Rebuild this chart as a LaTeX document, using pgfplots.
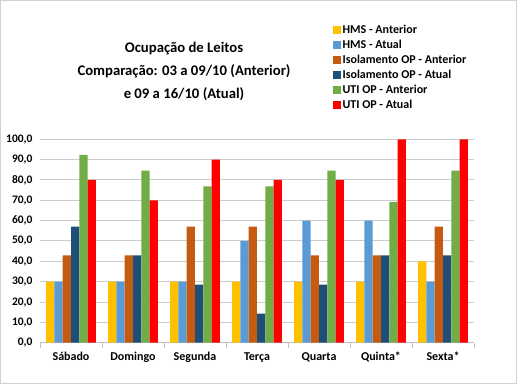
\documentclass[border=0pt]{standalone}
\usepackage{pgfplots}
\pgfplotsset{compat=1.18}
\usepackage{fontspec}
\setmainfont{Carlito}
\definecolor{cYel}{HTML}{FFC000}
\definecolor{cBlu}{HTML}{5B9BD5}
\definecolor{cOra}{HTML}{C55A11}
\definecolor{cDbl}{HTML}{1F4E79}
\definecolor{cGrn}{HTML}{70AD47}
\definecolor{cRed}{HTML}{FF0000}
\definecolor{cGrid}{HTML}{CCCCCC}
\definecolor{cAxis}{HTML}{BFBFBF}
\pgfplotsset{
  /pgfplots/ybar legend/.style={
    /pgfplots/legend image code/.code={\fill[##1,draw=none] (0bp,-4bp) rectangle (8bp,4bp);}
  }
}
\begin{document}
\begin{tikzpicture}
\useasboundingbox (0,0) rectangle (517bp,384bp);
\draw[cAxis!70] (0.5bp,0.5bp) rectangle (516.5bp,383.5bp);
\node[align=center,font=\bfseries\fontsize{14.7bp}{23bp}\selectfont] at (184bp,312.5bp)
  {Ocupação de Leitos\\Comparação: 03 a 09/10 (Anterior)\\e 09 a 16/10 (Atual)};
\begin{axis}[
  at={(40bp,41.3bp)}, anchor=south west,
  scale only axis, width=434bp, height=203.4bp,
  ybar=0pt, bar width=0.1333,
  xmin=-0.5, xmax=6.5, ymin=0, ymax=100,
  xtick={0,...,6},
  xticklabels={Sábado,Domingo,Segunda,Terça,Quarta,Quinta*,Sexta*},
  minor xtick={-0.5,0.5,...,6.5},
  ytick={0,10,...,100},
  major x tick style={draw=none},
  minor x tick style={draw=cAxis, line width=0.8bp},
  major tick length=0pt,
  minor tick length=5bp,
  tick align=outside,
  axis x line*=bottom,
  axis y line*=left,
  x axis line style={cAxis, line width=0.8bp, -},
  y axis line style={draw=none, -},
  clip=false,
  /pgf/number format/assume math mode=true,
  yticklabel={\pgfmathprintnumber[fixed,fixed zerofill,precision=1,use comma]{\tick}},
  yticklabel style={font=\bfseries\fontsize{11.5bp}{13bp}\selectfont, xshift=-4bp},
  xticklabel style={font=\bfseries\fontsize{12bp}{14bp}\selectfont, yshift=-6bp},
  legend style={at={(0.668,1.58)}, anchor=north west, draw=none, fill=none,
    font=\bfseries\fontsize{12bp}{14bp}\selectfont, row sep=2bp,
    nodes={inner sep=1.5bp}},
  legend cell align=left,
]
\foreach \g in {10,20,30,40,50,60,70,80,90,100}{
  \edef\temp{\noexpand\draw[cGrid, line width=1bp] (axis cs:-0.5,\g) -- (axis cs:6.5,\g);}
  \temp
}
\addplot[fill=cYel, draw=none, bar shift=-0.3333] coordinates {(0,30) (1,30) (2,30) (3,30) (4,30) (5,30) (6,40)};
\addplot[fill=cBlu, draw=none, bar shift=-0.2] coordinates {(0,30) (1,30) (2,30) (3,50) (4,60) (5,60) (6,30)};
\addplot[fill=cOra, draw=none, bar shift=-0.0667] coordinates {(0,42.9) (1,42.9) (2,57.1) (3,57.1) (4,42.9) (5,42.9) (6,57.1)};
\addplot[fill=cDbl, draw=none, bar shift=0.0667] coordinates {(0,57.1) (1,42.9) (2,28.6) (3,14.3) (4,28.6) (5,42.9) (6,42.9)};
\addplot[fill=cGrn, draw=none, bar shift=0.2] coordinates {(0,92.3) (1,84.6) (2,76.9) (3,76.9) (4,84.6) (5,69.2) (6,84.6)};
\addplot[fill=cRed, draw=none, bar shift=0.3333] coordinates {(0,80) (1,70) (2,90) (3,80) (4,80) (5,100) (6,100)};
\legend{HMS - Anterior, HMS - Atual, Isolamento OP - Anterior, Isolamento OP - Atual, UTI OP - Anterior, UTI OP - Atual}
\end{axis}
\end{tikzpicture}
\end{document}
